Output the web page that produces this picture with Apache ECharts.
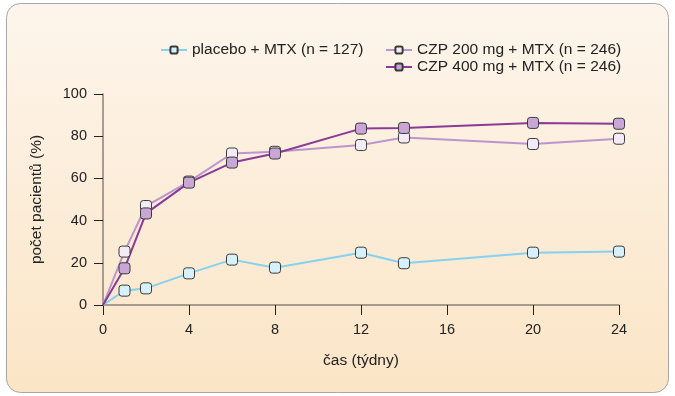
<!DOCTYPE html>
<html>
<head>
<meta charset="utf-8">
<script src="https://cdn.jsdelivr.net/npm/echarts@6/dist/echarts.min.js"></script>
<style>
  html, body { margin: 0; padding: 0; background: #fff; }
  #container { width: 675px; height: 396px; }
</style>
</head>
<body>
<div id="container"></div>
<script>
let weeks = [0, 1, 2, 4, 6, 8, 12, 14, 20, 24];
let placebo = [0, 6.8, 7.9, 15, 21.5, 17.7, 24.8, 19.8, 24.8, 25.3];
let czp200 = [0, 25.3, 46.9, 58.5, 71.8, 72.6, 75.8, 79.4, 76.3, 78.8];
let czp400 = [0, 17.4, 43.4, 58, 67.5, 71.8, 83.6, 83.9, 86.3, 85.9];
let xTicks = [0, 4, 8, 12, 16, 20, 24];

let names = ['placebo + MTX (n = 127)', 'CZP 200 mg + MTX (n = 246)', 'CZP 400 mg + MTX (n = 246)'];

function toPoints(values) {
    return weeks.map(function (w, i) {
        if (i === 0) return { value: [w, values[i]], symbol: 'none' };
        return [w, values[i]];
    });
}

var dom = document.getElementById('container');
var myChart = echarts.init(dom, null, { renderer: 'canvas' });

var textFont = 'Liberation Sans';

function makeSeries(name, values, lineColor, fillColor) {
    return {
        name: name,
        type: 'line',
        data: toPoints(values),
        symbol: 'roundRect',
        symbolSize: 11,
        showAllSymbol: true,
        lineStyle: { color: lineColor, width: 2 },
        itemStyle: { color: fillColor, borderColor: '#3a3a3a', borderWidth: 1 },
        z: 3
    };
}

var option = {
    backgroundColor: '#fff',
    graphic: [{
        type: 'rect',
        left: 6,
        top: 3,
        shape: { width: 662, height: 389, r: 14 },
        style: {
            fill: new echarts.graphic.LinearGradient(0, 0, 0, 1, [
                { offset: 0, color: '#fdf5ec' },
                { offset: 1, color: '#fbe5c6' }
            ]),
            stroke: '#a9a6a3',
            lineWidth: 1
        },
        z: -10
    }],
    legend: [{
        data: [names[0]],
        left: 155,
        top: 37,
        itemWidth: 26,
        itemHeight: 9,
        textStyle: { fontFamily: textFont, fontSize: 15.5, color: '#222' }
    }, {
        data: [names[1], names[2]],
        orient: 'vertical',
        left: 380,
        top: 37,
        itemGap: 1,
        itemWidth: 26,
        itemHeight: 9,
        textStyle: { fontFamily: textFont, fontSize: 15.5, color: '#222' }
    }],
    grid: { left: 103, right: 56, top: 94, bottom: 91 },
    xAxis: {
        type: 'value',
        min: 0,
        max: 24,
        interval: 4,
        name: 'čas (týdny)',
        nameLocation: 'middle',
        nameGap: 48,
        nameTextStyle: { fontFamily: textFont, fontSize: 15.5, color: '#222' },
        axisLine: { lineStyle: { color: '#8c8178', width: 1.5 } },
        axisTick: { length: 10, lineStyle: { color: '#222', width: 1 } },
        axisLabel: {
            fontFamily: textFont, fontSize: 14.5, color: '#222', margin: 17,
            customValues: xTicks
        },
        splitLine: { show: false }
    },
    yAxis: {
        type: 'value',
        min: 0,
        max: 100,
        interval: 20,
        name: 'počet pacientů (%)',
        nameLocation: 'middle',
        nameGap: 58,
        nameTextStyle: { fontFamily: textFont, fontSize: 15.5, color: '#222' },
        axisLine: { show: true, lineStyle: { color: '#8c8178', width: 1.5 } },
        axisTick: { show: true, length: 9, lineStyle: { color: '#222', width: 1 } },
        axisLabel: { fontFamily: textFont, fontSize: 14.5, color: '#222', margin: 16 },
        splitLine: { show: false }
    },
    series: [
        makeSeries(names[0], placebo, '#86d0f1', '#d7f1fc'),
        makeSeries(names[1], czp200, '#bb95cd', '#f3ecf7'),
        makeSeries(names[2], czp400, '#8b3a97', '#c9a6d5')
    ]
};

myChart.setOption(option);
window.addEventListener('resize', myChart.resize);
</script>
</body>
</html>
